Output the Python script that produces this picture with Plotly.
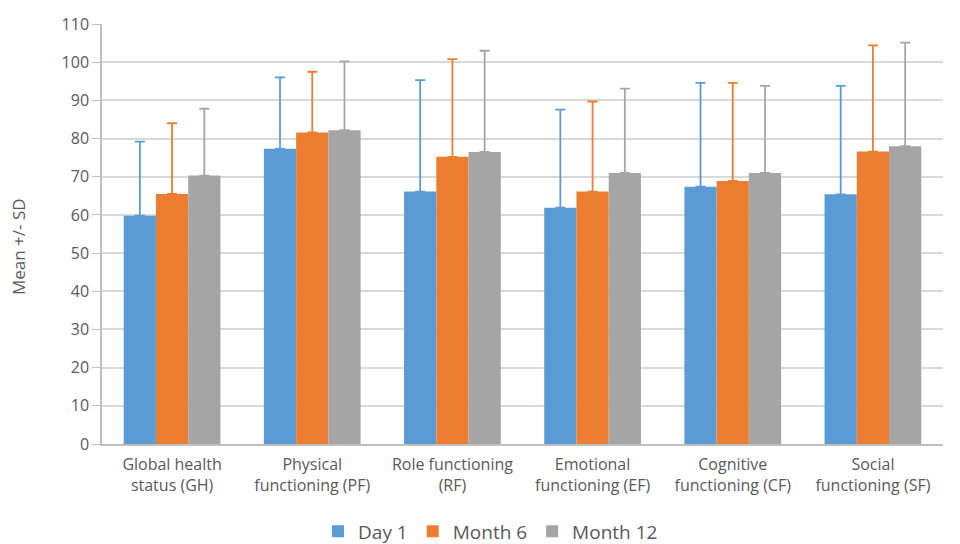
import plotly.graph_objects as go

categories = ["Global health<br>status (GH)", "Physical<br>functioning (PF)", "Role functioning<br>(RF)",
              "Emotional<br>functioning (EF)", "Cognitive<br>functioning (CF)", "Social<br>functioning (SF)"]
series_names = ["Day 1", "Month 6", "Month 12"]
day1_mean = [59.8, 77.3, 66.1, 61.9, 67.4, 65.4]
day1_sd = [19.4, 18.7, 29.2, 25.7, 27.2, 28.4]
month6_mean = [65.5, 81.6, 75.2, 66.1, 68.9, 76.6]
month6_sd = [18.5, 15.9, 25.6, 23.6, 25.7, 27.8]
month12_mean = [70.3, 82.2, 76.5, 71.0, 71.0, 78.0]
month12_sd = [17.5, 18.0, 26.5, 22.1, 22.8, 27.1]
y_ticks = list(range(0, 111, 10))

colors = ["#5B9BD5", "#ED7D31", "#A5A5A5"]
means = [day1_mean, month6_mean, month12_mean]
sds = [day1_sd, month6_sd, month12_sd]

font_family = "Open Sans, sans-serif"
fig = go.Figure()
for name, m, s, c in zip(series_names, means, sds, colors):
    fig.add_trace(go.Bar(
        name=name, x=categories, y=m, marker_color=c, marker_line_width=0,
        error_y=dict(type="data", array=s, arrayminus=[0] * len(s), symmetric=False,
                     color=c, thickness=1.8, width=5),
    ))

fig.update_layout(
    width=952, height=536,
    barmode="group", bargap=0.31, bargroupgap=0,
    plot_bgcolor="white", paper_bgcolor="white",
    margin=dict(l=94, r=17, t=16, b=100, autoexpand=False),
    font=dict(family=font_family, color="#595959", size=16),
    legend=dict(orientation="h", x=0.462, xanchor="center", y=-0.208, yanchor="middle",
                font=dict(size=19, color="#595959"), itemwidth=30, traceorder="normal"),
    showlegend=True,
    annotations=[dict(text="Mean +/- SD", xref="paper", yref="paper", x=-0.1, y=0.471,
                      xanchor="center", yanchor="middle", textangle=-90, showarrow=False,
                      font=dict(size=17, color="#595959"))],
)
fig.update_yaxes(range=[0, 110], tickvals=y_ticks, showgrid=True, gridcolor="#D9D9D9", gridwidth=1.5,
                 showline=True, linecolor="#BFBFBF", linewidth=1.5, ticks="outside", ticklen=8,
                 tickcolor="#BFBFBF", tickfont=dict(size=16, color="#595959"),
                 zeroline=False, automargin=False)
fig.update_xaxes(showline=True, linecolor="#BFBFBF", linewidth=1.5, tickfont=dict(size=16, color="#595959"),
                 ticks="", automargin=False, ticklabelstandoff=5)

fig.write_html("out.html")
